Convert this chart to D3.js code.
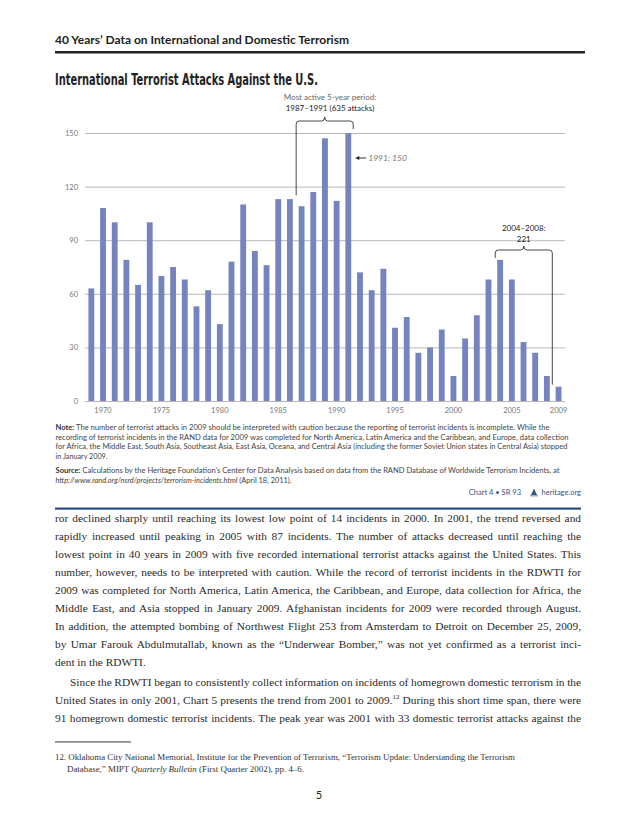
<!DOCTYPE html>
<html>
<head>
<meta charset="utf-8">
<script src="https://cdn.jsdelivr.net/npm/d3@7"></script>
<style>
body { margin: 0; background: #fff; }
svg { display: block; }
</style>
</head>
<body>
<svg id="page"></svg>
<script>
var years = [1969, 1970, 1971, 1972, 1973, 1974, 1975, 1976, 1977, 1978, 1979,
	1980, 1981, 1982, 1983, 1984, 1985, 1986, 1987, 1988, 1989,
	1990, 1991, 1992, 1993, 1994, 1995, 1996, 1997, 1998, 1999,
	2000, 2001, 2002, 2003, 2004, 2005, 2006, 2007, 2008, 2009];
var attacks = [63, 108, 100, 79, 65, 100, 70, 75, 68, 53, 62,
	43, 78, 110, 84, 76, 113, 113, 109, 117, 147,
	112, 150, 72, 62, 74, 41, 47, 27, 30, 40,
	14, 35, 48, 68, 79, 68, 33, 27, 14, 8];
var yTicks = [0, 30, 60, 90, 120, 150];
var yearLabels = [1970, 1975, 1980, 1985, 1990, 1995, 2000, 2005, 2009];

var page = { width: 638, height: 826 };
var plot = { left: 85.5, right: 564.4, top: 133, bottom: 401 };
var barColor = '#7583be';
var sans = 'Lato, "Open Sans", sans-serif';
var serif = '"Liberation Serif", "DejaVu Serif", serif';

var svg = d3.select('#page')
	.attr('width', page.width)
	.attr('height', page.height);

svg.append('rect')
	.attr('width', page.width)
	.attr('height', page.height)
	.attr('fill', '#fff');

// page header
svg.append('text')
	.attr('x', 55)
	.attr('y', 44)
	.attr('font-family', sans)
	.attr('font-weight', 'bold')
	.attr('font-size', '10.5px')
	.attr('fill', '#222')
	.attr('textLength', 294)
	.attr('lengthAdjust', 'spacingAndGlyphs')
	.text('40 Years\u2019 Data on International and Domestic Terrorism');

svg.append('rect')
	.attr('x', 55)
	.attr('y', 51)
	.attr('width', 530)
	.attr('height', 2.5)
	.attr('fill', '#222');

svg.append('text')
	.attr('x', 55)
	.attr('y', 85)
	.attr('font-family', '"Liberation Sans Narrow", "DejaVu Sans Condensed", sans-serif')
	.attr('font-weight', 'bold')
	.attr('font-size', '15px')
	.attr('fill', '#222')
	.attr('textLength', 263)
	.attr('lengthAdjust', 'spacingAndGlyphs')
	.text('International Terrorist Attacks Against the U.S.');

// chart
var x = d3.scaleBand()
	.domain(years)
	.range([plot.left, plot.right])
	.paddingInner(0.5)
	.paddingOuter(0.25);

var y = d3.scaleLinear()
	.domain([0, 150])
	.range([plot.bottom, plot.top]);

var chart = svg.append('g').attr('id', 'chart');

var yAxis = chart.append('g')
	.attr('transform', 'translate(85,0)')
	.call(d3.axisLeft(y).tickValues(yTicks).tickSize(-480).tickPadding(7));
yAxis.select('.domain').remove();
yAxis.selectAll('line').attr('stroke', '#a6a6a6').attr('stroke-width', 0.8);
yAxis.selectAll('text')
	.attr('font-family', sans)
	.attr('font-size', '7.5px')
	.attr('fill', '#777');

var xAxis = chart.append('g')
	.attr('transform', 'translate(0,' + plot.bottom + ')')
	.call(d3.axisBottom(x).tickValues(yearLabels).tickSize(0).tickPadding(7));
xAxis.select('.domain').remove();
xAxis.selectAll('text')
	.attr('font-family', sans)
	.attr('font-size', '7.5px')
	.attr('fill', '#777');

chart.selectAll('.bar')
	.data(attacks)
	.enter().append('rect')
	.attr('class', 'bar')
	.attr('x', function(d, i) { return x(years[i]); })
	.attr('y', function(d) { return y(d); })
	.attr('width', x.bandwidth())
	.attr('height', function(d) { return y(0) - y(d); })
	.attr('fill', barColor);

function valueOf(yr) { return attacks[years.indexOf(yr)]; }
function periodSum(a, b) {
	return d3.sum(years.filter(function(yr) { return yr >= a && yr <= b; }), valueOf);
}

function brace(x0, x1, yTop, leftEnd, rightEnd) {
	var r = 3, tip = 4, xm = (x0 + x1) / 2;
	return 'M' + x0 + ',' + leftEnd +
		'L' + x0 + ',' + (yTop + r) +
		'Q' + x0 + ',' + yTop + ' ' + (x0 + r) + ',' + yTop +
		'L' + (xm - r) + ',' + yTop +
		'Q' + xm + ',' + yTop + ' ' + xm + ',' + (yTop - tip) +
		'Q' + xm + ',' + yTop + ' ' + (xm + r) + ',' + yTop +
		'L' + (x1 - r) + ',' + yTop +
		'Q' + x1 + ',' + yTop + ' ' + x1 + ',' + (yTop + r) +
		'L' + x1 + ',' + rightEnd;
}

var bw = x.bandwidth();
var notes = chart.append('g').attr('font-family', sans);

// most active period
var b1x0 = x(1987) - 2.5, b1x1 = x(1991) + bw + 2;
notes.append('path')
	.attr('d', brace(b1x0, b1x1, 121, y(valueOf(1987)) - 11, y(valueOf(1991)) - 4))
	.attr('fill', 'none')
	.attr('stroke', '#333')
	.attr('stroke-width', 0.9);
notes.append('text')
	.attr('x', 330).attr('y', 100)
	.attr('text-anchor', 'middle')
	.attr('font-size', '8px')
	.attr('fill', '#666')
	.text('Most active 5-year period:');
notes.append('text')
	.attr('x', 330).attr('y', 111)
	.attr('text-anchor', 'middle')
	.attr('font-size', '8px')
	.attr('fill', '#222')
	.text('1987\u20131991 (' + periodSum(1987, 1991) + ' attacks)');

// 1991 peak
var ax = x(1991) + bw + 4, ay = y(150) + 25;
notes.append('line')
	.attr('x1', ax + 2).attr('x2', ax + 11)
	.attr('y1', ay).attr('y2', ay)
	.attr('stroke', '#222')
	.attr('stroke-width', 0.9);
notes.append('path')
	.attr('d', 'M' + ax + ',' + ay + 'l4,-2l0,4z')
	.attr('fill', '#222');
notes.append('text')
	.attr('x', ax + 13).attr('y', ay + 3)
	.attr('font-size', '8.5px')
	.attr('font-style', 'italic')
	.attr('fill', '#777')
	.text('1991: ' + valueOf(1991));

// 2004-2008
var b2x0 = x(2004) - 2, b2x1 = x(2008) + bw + 2.5;
notes.append('path')
	.attr('d', brace(b2x0, b2x1, 250, y(valueOf(2004)) - 2, y(valueOf(2009)) - 2))
	.attr('fill', 'none')
	.attr('stroke', '#333')
	.attr('stroke-width', 0.9);
notes.append('text')
	.attr('x', (b2x0 + b2x1) / 2).attr('y', 231)
	.attr('text-anchor', 'middle')
	.attr('font-size', '8px')
	.attr('fill', '#222')
	.text('2004\u20132008:');
notes.append('text')
	.attr('x', (b2x0 + b2x1) / 2).attr('y', 242)
	.attr('text-anchor', 'middle')
	.attr('font-size', '8px')
	.attr('fill', '#222')
	.text(periodSum(2004, 2008));

// note and source
var noteLines = [
	{ y: 430, w: 494, parts: [['Note:', 'bold'], [' The number of terrorist attacks in 2009 should be interpreted with caution because the reporting of terrorist incidents is incomplete.  While the']] },
	{ y: 439.5, w: 513, parts: [['recording of terrorist incidents in the RAND data for 2009 was completed for North America, Latin America and the Caribbean, and Europe, data collection']] },
	{ y: 449, w: 512, parts: [['for Africa, the Middle East, South Asia,  Southeast Asia, East Asia, Oceana, and Central Asia (including the former Soviet Union states in Central Asia) stopped']] },
	{ y: 458.5, w: 52, parts: [['in January 2009.']] },
	{ y: 473, w: 504, parts: [['Source:', 'bold'], [' Calculations by the Heritage Foundation\u2019s Center for Data Analysis based on data from the RAND Database of Worldwide Terrorism Incidents, at']] },
	{ y: 482.5, w: 236, parts: [['http://www.rand.org/nsrd/projects/terrorism-incidents.html', 'italic'], [' (April 18, 2011).']] }
];

var noteText = svg.append('g')
	.attr('font-family', sans)
	.attr('font-size', '7.2px')
	.attr('fill', '#444')
	.selectAll('text')
	.data(noteLines)
	.enter().append('text')
	.attr('x', 55.5)
	.attr('y', function(d) { return d.y; })
	.attr('textLength', function(d) { return d.w; })
	.attr('lengthAdjust', 'spacingAndGlyphs');
noteText.selectAll('tspan')
	.data(function(d) { return d.parts; })
	.enter().append('tspan')
	.attr('font-weight', function(p) { return p[1] === 'bold' ? 'bold' : null; })
	.attr('font-style', function(p) { return p[1] === 'italic' ? 'italic' : null; })
	.attr('fill', function(p) { return p[1] === 'bold' ? '#333' : null; })
	.text(function(p) { return p[0]; });

var credit = svg.append('g')
	.attr('font-family', sans)
	.attr('font-size', '7.5px')
	.attr('fill', '#34558b');
credit.append('text')
	.attr('x', 521).attr('y', 495)
	.attr('text-anchor', 'end')
	.text('Chart 4 \u2022 SR 93');
credit.append('path')
	.attr('d', 'M531,495 L534,488.5 L537,495 Z M530,495.5 h8 v0.8 h-8 Z')
	.attr('fill', '#34558b');
credit.append('text')
	.attr('x', 581).attr('y', 495)
	.attr('text-anchor', 'end')
	.text('heritage.org');

svg.append('rect')
	.attr('x', 55)
	.attr('y', 507.5)
	.attr('width', 526)
	.attr('height', 2.2)
	.attr('fill', '#2c4a82');

// body text
var bodyLines = [
	{ t: 'ror declined sharply until reaching its lowest low point of 14 incidents in 2000. In 2001, the trend reversed and', j: true },
	{ t: 'rapidly increased until peaking in 2005 with 87 incidents. The number of attacks decreased until reaching the', j: true },
	{ t: 'lowest point in 40 years in 2009 with five recorded international terrorist attacks against the United States. This', j: true },
	{ t: 'number, however, needs to be interpreted with caution. While the record of terrorist incidents in the RDWTI for', j: true },
	{ t: '2009 was completed for North America, Latin America, the Caribbean, and Europe, data collection for Africa, the', j: true },
	{ t: 'Middle East, and Asia stopped in January 2009. Afghanistan incidents for 2009 were recorded through August.', j: true },
	{ t: 'In addition, the attempted bombing of Northwest Flight 253 from Amsterdam to Detroit on December 25, 2009,', j: true },
	{ t: 'by Umar Farouk Abdulmutallab, known as the \u201cUnderwear Bomber,\u201d was not yet confirmed as a terrorist inci-', j: true },
	{ t: 'dent in the RDWTI.', j: false },
	{ t: 'Since the RDWTI began to consistently collect information on incidents of homegrown domestic terrorism in the', j: true, indent: 15, gap: 2 },
	{ t: 'United States in only 2001, Chart 5 presents the trend from 2001 to 2009.|12| During this short time span, there were', j: true },
	{ t: '91 homegrown domestic terrorist incidents. The peak year was 2001 with 33 domestic terrorist attacks against the', j: true }
];

var body = svg.append('g')
	.attr('font-family', serif)
	.attr('font-size', '11.35px')
	.attr('fill', '#2a2a2a');

var lineY = 521.5;
bodyLines.forEach(function(line, i) {
	if (i > 0) lineY += 18 + (line.gap || 0);
	var left = 55 + (line.indent || 0);
	var t = body.append('text')
		.attr('x', left)
		.attr('y', lineY);
	line.t.split('|').forEach(function(s, k) {
		var sp = t.append('tspan').text(s);
		if (k === 1) sp.attr('font-size', '7px').attr('dy', -4.5);
		if (k === 2) sp.attr('dy', 4.5);
	});
	if (line.j) {
		var natural = t.node().getComputedTextLength();
		var spaces = (line.t.match(/ /g) || []).length;
		t.attr('word-spacing', ((581 - left) - natural) / spaces);
	}
});

// footnote
svg.append('rect')
	.attr('x', 55)
	.attr('y', 741.5)
	.attr('width', 76)
	.attr('height', 0.9)
	.attr('fill', '#222');

var foot = svg.append('g')
	.attr('font-family', serif)
	.attr('font-size', '8.6px')
	.attr('fill', '#333');
foot.append('text')
	.attr('x', 55).attr('y', 760)
	.attr('textLength', 460)
	.attr('lengthAdjust', 'spacingAndGlyphs')
	.text('12.  Oklahoma City National Memorial, Institute for the Prevention of Terrorism, \u201cTerrorism Update: Understanding the Terrorism');
var f2 = foot.append('text')
	.attr('x', 67).attr('y', 772)
	.attr('textLength', 237)
	.attr('lengthAdjust', 'spacingAndGlyphs');
f2.append('tspan').text('Database,\u201d MIPT ');
f2.append('tspan').attr('font-style', 'italic').text('Quarterly Bulletin');
f2.append('tspan').text(' (First Quarter 2002), pp. 4\u20136.');

svg.append('text')
	.attr('x', 319).attr('y', 799)
	.attr('text-anchor', 'middle')
	.attr('font-family', sans)
	.attr('font-size', '11px')
	.attr('fill', '#222')
	.text('5');
</script>
</body>
</html>
